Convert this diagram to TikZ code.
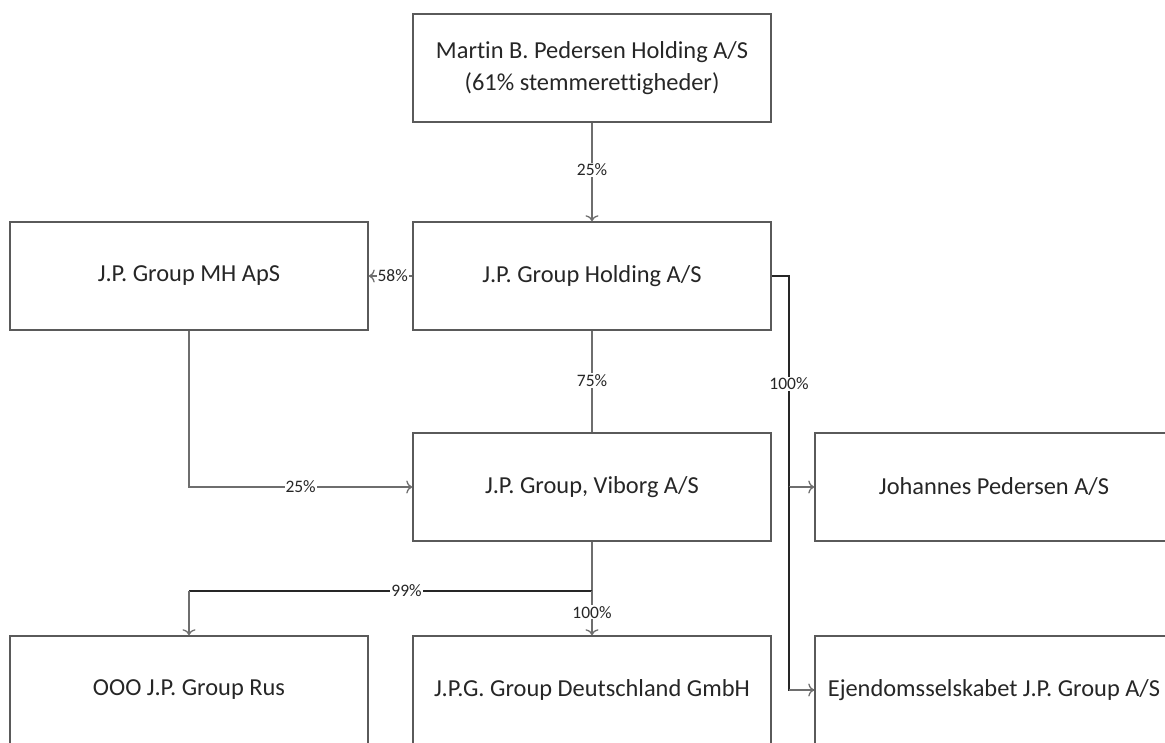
\documentclass[tikz,border=0pt]{standalone}
\usepackage{fontspec}
\setmainfont{Carlito}[Ligatures=NoCommon]
\usetikzlibrary{arrows.meta}
\definecolor{boxline}{HTML}{5A5A5A}
\definecolor{conline}{HTML}{6E6E6E}
\tikzset{
  orgbox/.style={draw=boxline, line width=1.5pt, minimum width=358pt, minimum height=108pt, inner sep=0pt, align=center, font=\fontsize{24.4}{32}\selectfont, text=black!85},
  conn/.style={draw=conline, line width=1.4pt},
  darkconn/.style={draw=black!85, line width=1.3pt},
  arr/.style={-{To[length=6pt,width=13pt,line width=1.3pt]}},
  pct/.style={fill=white, inner sep=1pt, font=\fontsize{17.5}{19}\selectfont, text=black!85}
}
\begin{document}
\begin{tikzpicture}[x=1pt,y=-1pt]
\useasboundingbox (0,0) rectangle (1165,742);
\clip (0,0) rectangle (1165,742);
\node[orgbox] (top) at (592,68) {Martin B. Pedersen Holding A/S\\(61\% stemmerettigheder)};
\node[orgbox] (hold) at (592,276) {J.P. Group Holding A/S};
\node[orgbox] (mh) at (189,276) {J.P. Group MH ApS};
\node[orgbox] (vib) at (592,487) {J.P. Group, Viborg A/S};
\node[orgbox] (joh) at (994,487) {Johannes Pedersen A/S};
\node[orgbox] (rus) at (189,690) {OOO J.P. Group Rus};
\node[orgbox] (deu) at (592,690) {J.P.G. Group Deutschland GmbH};
\node[orgbox] (ejd) at (994,690) {Ejendomsselskabet J.P. Group A/S};

\coordinate (hr) at (789,276);
\coordinate (vb) at (592,591);
\coordinate (mhc) at (189,487);

% top -> holding
\draw[conn,arr] (top.south) -- node[pct, pos=0.48] {25\%} (hold.north);
% holding -> mh
\draw[conn,arr] (hold.west) -- node[pct, pos=0.45] {58\%} (mh.east);
% holding -> viborg
\draw[conn] (hold.south) -- node[pct, pos=0.49] {75\%} (vib.north);
% mh -> viborg
\draw[conn,arr] (mh.south) |- (mhc) -- node[pct, pos=0.5] {25\%} (vib.west);
% holding -> johannes, ejendom
\draw[darkconn] (hold.east) -- (hr) -- node[pct, pos=0.51] {100\%} (789,487);
\draw[conn,arr] (789,487) -- (joh.west);
\draw[darkconn] (789,487) |- (ejd.west);
\draw[conn,arr] (789,690) -- (ejd.west);
% viborg -> rus, deu
\draw[conn] (vib.south) -- (vb);
\draw[darkconn] (vb) -- node[pct, pos=0.46] {99\%} (189,591);
\draw[conn,arr] (189,591) -- (rus.north);
\draw[conn,arr] (vb) -- node[pct, pos=0.48] {100\%} (deu.north);
\end{tikzpicture}
\end{document}
